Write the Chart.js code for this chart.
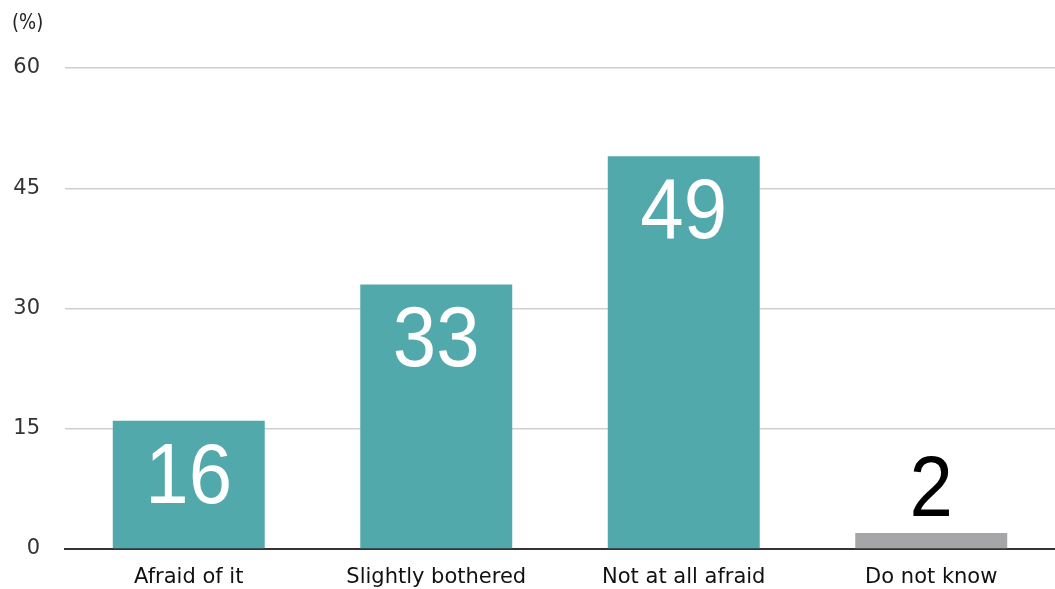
<!DOCTYPE html>
<html>
<head>
<meta charset="utf-8">
<script src="https://cdn.jsdelivr.net/npm/chart.js@4/dist/chart.umd.min.js"></script>
<style>
  html, body { margin: 0; padding: 0; background: #fff; }
  #wrap { width: 1055px; height: 589px; }
</style>
</head>
<body>
<div id="wrap"><canvas id="chart" width="1055" height="589"></canvas></div>
<script>
// survey answers, in percent
var categories = ['Afraid of it', 'Slightly bothered', 'Not at all afraid', 'Do not know'];
var values = [16, 33, 49, 2];
var barColors = ['#52a9ac', '#52a9ac', '#52a9ac', '#a6a6a9'];
var yTicks = [0, 15, 30, 45, 60];
var unitLabel = '(%)';

// big numbers on the bars; short bars get theirs above in black
var valueLabels = {
  id: 'valueLabels',
  afterDatasetsDraw: function(chart) {
    var ctx = chart.ctx;
    var meta = chart.getDatasetMeta(0);
    ctx.save();
    ctx.font = '78px "Liberation Sans", Arial, sans-serif';
    ctx.textAlign = 'center';
    ctx.textBaseline = 'alphabetic';
    meta.data.forEach(function(bar, i) {
      var v = values[i];
      var inside = v >= 10;
      var y = inside ? bar.y + 82 : bar.y - 17;
      ctx.fillStyle = inside ? '#ffffff' : '#000000';
      ctx.save();
      ctx.translate(bar.x, y);
      ctx.scale(1, 1.1);
      ctx.fillText(String(v), 0, 0);
      ctx.restore();
    });
    // unit caption above the y axis
    ctx.font = '18px "DejaVu Sans", sans-serif';
    ctx.fillStyle = '#222';
    ctx.textAlign = 'left';
    ctx.textBaseline = 'alphabetic';
    ctx.save();
    ctx.translate(12, 29);
    ctx.scale(1, 1.15);
    ctx.fillText(unitLabel, 0, 0);
    ctx.restore();
    ctx.restore();
  }
};

new Chart(document.getElementById('chart'), {
  type: 'bar',
  data: {
    labels: categories,
    datasets: [{
      data: values,
      backgroundColor: barColors,
      borderWidth: 0,
      barPercentage: 0.614,
      categoryPercentage: 1
    }]
  },
  options: {
    responsive: false,
    animation: false,
    layout: { padding: { top: 68, right: 0, bottom: 0, left: 0 } },
    plugins: {
      legend: { display: false },
      tooltip: { enabled: false }
    },
    scales: {
      x: {
        grid: { display: false, drawTicks: false },
        border: { display: true, color: '#333333', width: 2 },
        ticks: {
          color: '#111',
          padding: 16,
          font: { family: '"DejaVu Sans", sans-serif', size: 21 }
        },
        afterFit: function(scale) { scale.height = 40; }
      },
      y: {
        min: 0,
        max: 60,
        afterBuildTicks: function(scale) {
          scale.ticks = yTicks.map(function(v) { return { value: v }; });
        },
        grid: { color: '#cfcfcf', lineWidth: 1.5, drawTicks: false },
        border: { display: false },
        ticks: {
          color: '#333',
          padding: 25,
          font: { family: '"DejaVu Sans", sans-serif', size: 21 }
        },
        afterFit: function(scale) { scale.width = 65; }
      }
    }
  },
  plugins: [valueLabels]
});
</script>
</body>
</html>
